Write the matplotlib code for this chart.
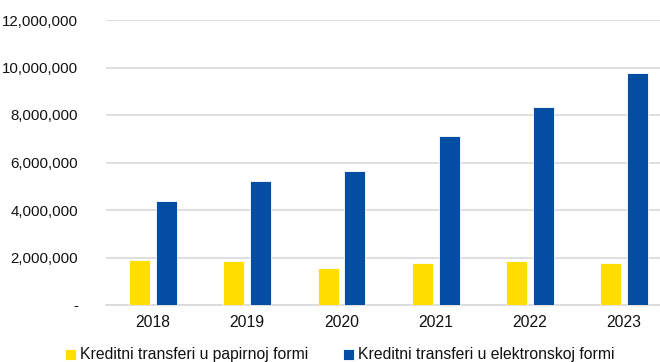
import matplotlib.pyplot as plt
import numpy as np

plt.rcParams['font.family'] = ['Liberation Sans', 'DejaVu Sans']

years = ['2018', '2019', '2020', '2021', '2022', '2023']
paper = [1890000, 1840000, 1560000, 1750000, 1850000, 1780000]
electronic = [4380000, 5220000, 5640000, 7130000, 8320000, 9760000]
labels = ['Kreditni transferi u papirnoj formi', 'Kreditni transferi u elektronskoj formi']

fig = plt.figure(figsize=(6.6, 3.62), dpi=100)
ax = fig.add_axes([106 / 660, 57 / 362, 554 / 660, 285 / 362])

x = np.arange(len(years))
w = 0.223
off = 0.143
ax.bar(x - off, paper, w, color='#FFDE00', edgecolor='white', linewidth=0.6, label=labels[0], zorder=3)
ax.bar(x + off, electronic, w, color='#034EA2', edgecolor='white', linewidth=0.6, label=labels[1], zorder=3)

ax.set_xlim(-0.5, -0.5 + 554 / 94.2)
ax.set_ylim(0, 12000000)
yt = np.arange(0, 12000001, 2000000)
ax.set_yticks(yt)
ax.set_yticklabels(['-'] + [f'{v:,}' for v in yt[1:]])
ax.set_xticks(x)
ax.set_xticklabels(years)
ax.tick_params(axis='both', length=0, colors='#111111')
ax.tick_params(axis='y', pad=20, labelsize=10.8)
ax.tick_params(axis='x', pad=7, labelsize=11.3)
ax.grid(axis='y', color='#D9D9D9', linewidth=1.2, zorder=0)
for s in ['top', 'right', 'left']:
    ax.spines[s].set_visible(False)
ax.spines['bottom'].set_color('#D9D9D9')
ax.spines['bottom'].set_linewidth(1.2)

leg = fig.legend(loc='center', bbox_to_anchor=(0.515, 7 / 362), ncol=2, frameon=False,
                 fontsize=11.3, handlelength=0.7, handleheight=0.7, handletextpad=0.25,
                 columnspacing=2.2, borderpad=0)
for t in leg.get_texts():
    t.set_color('#111111')

fig.savefig('out.png', dpi=100)
